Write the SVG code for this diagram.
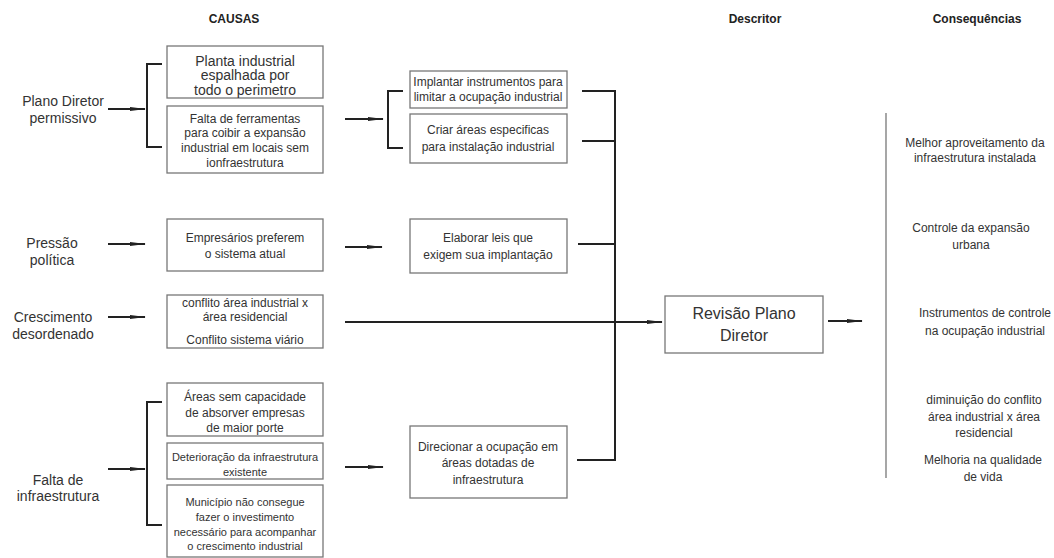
<svg xmlns="http://www.w3.org/2000/svg" width="1054" height="558" viewBox="0 0 1054 558">
<style>
text{font-family:"Liberation Sans",Arial,sans-serif;fill:#333;text-anchor:middle}
.h{font-weight:bold;font-size:12px;fill:#222}
.l{font-size:14px}
.t{font-size:12px}
.s{font-size:11px}
.p{font-size:14px}
.b{fill:#fff;stroke:#777;stroke-width:1.3}
.c{fill:none;stroke:#222;stroke-width:2}
.a{fill:none;stroke:#222;stroke-width:2;marker-end:url(#ah)}
.g{fill:none;stroke:#777;stroke-width:1.3}
</style>
<defs>
<marker id="ah" markerWidth="16" markerHeight="6" refX="15" refY="3" orient="auto" markerUnits="userSpaceOnUse">
<path d="M0,0.9 L16,3 L0,5.1 z" fill="#222"/>
</marker>
</defs>
<rect width="1054" height="558" fill="#fff"/>
<g id="headers">
<text class="h" x="234" y="23">CAUSAS</text>
<text class="h" x="755" y="23">Descritor</text>
<text class="h" x="977" y="23">Consequências</text>
</g>
<g id="causes">
<g id="plano"><text class="l" x="63" y="106">Plano Diretor</text><text class="l" x="63" y="123">permissivo</text></g>
<g id="pressao"><text class="l" x="52" y="248">Pressão</text><text class="l" x="52" y="265">política</text></g>
<g id="crescimento"><text class="l" x="53" y="322">Crescimento</text><text class="l" x="53" y="339">desordenado</text></g>
<g id="falta"><text class="l" x="58" y="485">Falta de</text><text class="l" x="58" y="501">infraestrutura</text></g>
</g>
<g id="box-planta"><rect class="b" x="167" y="46" width="156" height="52"/>
<text class="p" x="245" y="66">Planta industrial</text><text class="p" x="245" y="80">espalhada por</text><text class="p" x="245" y="95">todo o perimetro</text></g>
<g id="box-falta-ferr"><rect class="b" x="167" y="106" width="156" height="67"/>
<text class="t" x="245" y="123">Falta de ferramentas</text><text class="t" x="245" y="137">para coibir a expansão</text><text class="t" x="245" y="152">industrial em locais sem</text><text class="t" x="245" y="167">ionfraestrutura</text></g>
<g id="box-empresarios"><rect class="b" x="167" y="219" width="156" height="52"/>
<text class="t" x="245" y="242">Empresários preferem</text><text class="t" x="245" y="258">o sistema atual</text></g>
<g id="box-conflito"><rect class="b" x="167" y="295" width="156" height="53"/>
<text class="t" x="245" y="307">conflito área industrial x</text><text class="t" x="245" y="321">área residencial</text><text class="t" x="245" y="344">Conflito sistema viário</text></g>
<g id="box-areas"><rect class="b" x="167" y="383" width="156" height="53"/>
<text class="t" x="245" y="401">Áreas sem capacidade</text><text class="t" x="245" y="417">de absorver empresas</text><text class="t" x="245" y="432">de maior porte</text></g>
<g id="box-deterioracao"><rect class="b" x="167" y="443" width="156" height="36"/>
<text class="s" x="245" y="461">Deterioração da infraestrutura</text><text class="s" x="245" y="476">existente</text></g>
<g id="box-municipio"><rect class="b" x="167" y="485" width="156" height="72"/>
<text class="s" x="245" y="506">Município não consegue</text><text class="s" x="245" y="521">fazer o investimento</text><text class="s" x="245" y="536">necessário para acompanhar</text><text class="s" x="245" y="550">o crescimento industrial</text></g>
<g id="box-implantar"><rect class="b" x="410" y="71" width="157" height="37"/>
<text class="t" x="488" y="86">Implantar instrumentos para</text><text class="t" x="488" y="101">limitar a ocupação industrial</text></g>
<g id="box-criar"><rect class="b" x="410" y="114" width="157" height="49"/>
<text class="t" x="488" y="134">Criar áreas especificas</text><text class="t" x="488" y="151">para instalação industrial</text></g>
<g id="box-elaborar"><rect class="b" x="410" y="219" width="157" height="54"/>
<text class="t" x="488" y="242">Elaborar leis que</text><text class="t" x="488" y="259">exigem sua implantação</text></g>
<g id="box-direcionar"><rect class="b" x="410" y="426" width="157" height="72"/>
<text class="t" x="488" y="451">Direcionar a ocupação em</text><text class="t" x="488" y="467">áreas dotadas de</text><text class="t" x="488" y="484">infraestrutura</text></g>
<g id="box-revisao"><rect class="b" x="665" y="296" width="158" height="57"/>
<text x="744" y="319" style="font-size:16px">Revisão Plano</text><text x="744" y="341" style="font-size:16px">Diretor</text></g>
<g id="consequences">
<g id="c1"><text class="t" x="975" y="147">Melhor aproveitamento da</text><text class="t" x="975" y="162">infraestrutura instalada</text></g>
<g id="c2"><text class="t" x="971" y="232">Controle da expansão</text><text class="t" x="971" y="249">urbana</text></g>
<g id="c3"><text class="t" x="985" y="317">Instrumentos de controle</text><text class="t" x="985" y="335">na ocupação industrial</text></g>
<g id="c4"><text class="t" x="984" y="404">diminuição do conflito</text><text class="t" x="984" y="421">área industrial x área</text><text class="t" x="984" y="437">residencial</text></g>
<g id="c5"><text class="t" x="983" y="464">Melhoria na qualidade</text><text class="t" x="983" y="481">de vida</text></g>
</g>
<g id="connectors">
<path class="a" d="M108,109 H145"/>
<path class="a" d="M108,244 H145"/>
<path class="a" d="M108,317 H145"/>
<path class="a" d="M108,469 H145"/>
<path class="c" d="M162,64 H147 V147 H162"/>
<path class="c" d="M162,402 H147 V525 H162"/>
<path class="a" d="M345,119 H383"/>
<path class="a" d="M345,247 H382"/>
<path class="a" d="M345,467 H383"/>
<path class="c" d="M403,91 H388 V148 H403"/>
<path class="c" d="M582,91 H615 V460 H577"/>
<path class="c" d="M582,141 H615"/>
<path class="c" d="M578,244 H615"/>
<path class="a" d="M345,322 H662"/>
<path class="a" d="M828,321 H862"/>
<path class="g" d="M886,113 V478"/>
</g>
</svg>
